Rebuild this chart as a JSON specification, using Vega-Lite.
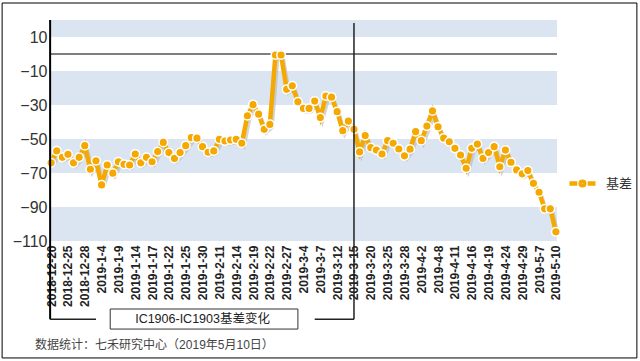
{
  "$schema": "https://vega.github.io/schema/vega-lite/v6.json",
  "width": 507,
  "height": 221,
  "autosize": {"type": "none"},
  "padding": {"left": 50, "top": 20, "right": 83, "bottom": 120},
  "background": "white",
  "config": {
    "view": {"stroke": null},
    "font": "Liberation Sans, Noto Sans CJK SC, sans-serif",
    "axisY": {"domain": false, "ticks": false, "grid": false, "labelFontSize": 16, "labelColor": "#333333", "labelPadding": 3, "labelFont": "Liberation Sans", "labelOverlap": false, "labelFlush": false},
    "axisX": {"domain": false, "ticks": false, "grid": false, "labelFontSize": 12, "labelFontWeight": "bold", "labelColor": "#222222", "labelAngle": 270, "labelAlign": "right", "labelBaseline": "middle", "labelPadding": 4, "labelOverlap": false, "labelFont": "Liberation Sans"}
  },
  "datasets": {
    "basis": [
      {"d": "2018-12-20", "v": -64.0, "s": "基差"},
      {"d": "2018-12-21", "v": -57.0, "s": "基差"},
      {"d": "2018-12-24", "v": -60.8, "s": "基差"},
      {"d": "2018-12-25", "v": -59.0, "s": "基差"},
      {"d": "2018-12-26", "v": -64.0, "s": "基差"},
      {"d": "2018-12-27", "v": -60.8, "s": "基差"},
      {"d": "2018-12-28", "v": -53.9, "s": "基差"},
      {"d": "2019-1-2", "v": -67.8, "s": "基差"},
      {"d": "2019-1-3", "v": -62.8, "s": "基差"},
      {"d": "2019-1-4", "v": -77.0, "s": "基差"},
      {"d": "2019-1-7", "v": -65.3, "s": "基差"},
      {"d": "2019-1-8", "v": -70.1, "s": "基差"},
      {"d": "2019-1-9", "v": -63.4, "s": "基差"},
      {"d": "2019-1-10", "v": -64.9, "s": "基差"},
      {"d": "2019-1-11", "v": -65.3, "s": "基差"},
      {"d": "2019-1-14", "v": -58.8, "s": "基差"},
      {"d": "2019-1-15", "v": -64.0, "s": "基差"},
      {"d": "2019-1-16", "v": -60.8, "s": "基差"},
      {"d": "2019-1-17", "v": -63.4, "s": "基差"},
      {"d": "2019-1-18", "v": -57.4, "s": "基差"},
      {"d": "2019-1-21", "v": -52.0, "s": "基差"},
      {"d": "2019-1-22", "v": -58.0, "s": "基差"},
      {"d": "2019-1-23", "v": -61.4, "s": "基差"},
      {"d": "2019-1-24", "v": -58.0, "s": "基差"},
      {"d": "2019-1-25", "v": -53.9, "s": "基差"},
      {"d": "2019-1-28", "v": -49.2, "s": "基差"},
      {"d": "2019-1-29", "v": -49.5, "s": "基差"},
      {"d": "2019-1-30", "v": -54.5, "s": "基差"},
      {"d": "2019-1-31", "v": -57.8, "s": "基差"},
      {"d": "2019-2-1", "v": -57.0, "s": "基差"},
      {"d": "2019-2-11", "v": -50.2, "s": "基差"},
      {"d": "2019-2-12", "v": -51.2, "s": "基差"},
      {"d": "2019-2-13", "v": -50.6, "s": "基差"},
      {"d": "2019-2-14", "v": -50.2, "s": "基差"},
      {"d": "2019-2-15", "v": -52.5, "s": "基差"},
      {"d": "2019-2-18", "v": -36.3, "s": "基差"},
      {"d": "2019-2-19", "v": -29.8, "s": "基差"},
      {"d": "2019-2-20", "v": -35.4, "s": "基差"},
      {"d": "2019-2-21", "v": -44.3, "s": "基差"},
      {"d": "2019-2-22", "v": -41.4, "s": "基差"},
      {"d": "2019-2-25", "v": -0.6, "s": "基差"},
      {"d": "2019-2-26", "v": -0.6, "s": "基差"},
      {"d": "2019-2-27", "v": -20.8, "s": "基差"},
      {"d": "2019-2-28", "v": -18.7, "s": "基差"},
      {"d": "2019-3-1", "v": -28.1, "s": "基差"},
      {"d": "2019-3-4", "v": -32.0, "s": "基差"},
      {"d": "2019-3-5", "v": -32.0, "s": "基差"},
      {"d": "2019-3-6", "v": -27.7, "s": "基差"},
      {"d": "2019-3-7", "v": -37.4, "s": "基差"},
      {"d": "2019-3-8", "v": -24.7, "s": "基差"},
      {"d": "2019-3-11", "v": -25.4, "s": "基差"},
      {"d": "2019-3-12", "v": -33.9, "s": "基差"},
      {"d": "2019-3-13", "v": -45.1, "s": "基差"},
      {"d": "2019-3-14", "v": -39.5, "s": "基差"},
      {"d": "2019-3-15", "v": -44.3, "s": "基差"},
      {"d": "2019-3-18", "v": -57.6, "s": "基差"},
      {"d": "2019-3-19", "v": -48.0, "s": "基差"},
      {"d": "2019-3-20", "v": -55.1, "s": "基差"},
      {"d": "2019-3-21", "v": -56.5, "s": "基差"},
      {"d": "2019-3-22", "v": -58.8, "s": "基差"},
      {"d": "2019-3-25", "v": -51.0, "s": "基差"},
      {"d": "2019-3-26", "v": -52.5, "s": "基差"},
      {"d": "2019-3-27", "v": -55.9, "s": "基差"},
      {"d": "2019-3-28", "v": -59.9, "s": "基差"},
      {"d": "2019-3-29", "v": -56.0, "s": "基差"},
      {"d": "2019-4-1", "v": -45.7, "s": "基差"},
      {"d": "2019-4-2", "v": -51.0, "s": "基差"},
      {"d": "2019-4-3", "v": -42.4, "s": "基差"},
      {"d": "2019-4-4", "v": -33.5, "s": "基差"},
      {"d": "2019-4-8", "v": -42.8, "s": "基差"},
      {"d": "2019-4-9", "v": -49.5, "s": "基差"},
      {"d": "2019-4-10", "v": -51.6, "s": "基差"},
      {"d": "2019-4-11", "v": -55.5, "s": "基差"},
      {"d": "2019-4-12", "v": -59.4, "s": "基差"},
      {"d": "2019-4-15", "v": -67.2, "s": "基差"},
      {"d": "2019-4-16", "v": -55.5, "s": "基差"},
      {"d": "2019-4-17", "v": -53.0, "s": "基差"},
      {"d": "2019-4-18", "v": -61.4, "s": "基差"},
      {"d": "2019-4-19", "v": -58.0, "s": "基差"},
      {"d": "2019-4-22", "v": -54.5, "s": "基差"},
      {"d": "2019-4-23", "v": -66.3, "s": "基差"},
      {"d": "2019-4-24", "v": -56.5, "s": "基差"},
      {"d": "2019-4-25", "v": -63.7, "s": "基差"},
      {"d": "2019-4-26", "v": -68.2, "s": "基差"},
      {"d": "2019-4-29", "v": -70.5, "s": "基差"},
      {"d": "2019-4-30", "v": -68.6, "s": "基差"},
      {"d": "2019-5-6", "v": -76.1, "s": "基差"},
      {"d": "2019-5-7", "v": -81.3, "s": "基差"},
      {"d": "2019-5-8", "v": -91.1, "s": "基差"},
      {"d": "2019-5-9", "v": -91.1, "s": "基差"},
      {"d": "2019-5-10", "v": -104.6, "s": "基差"}
    ]
  },
  "layer": [
    {
      "data": {"values": [{"lo": 10, "hi": 20}, {"lo": -30, "hi": -10}, {"lo": -70, "hi": -50}, {"lo": -110, "hi": -90}]},
      "mark": {"type": "rect", "color": "#dbe5f1"},
      "encoding": {
        "y": {"field": "lo", "type": "quantitative", "title": null, "scale": {"domain": [-110, 20], "nice": false, "zero": false}, "axis": {"values": [10, -10, -30, -50, -70, -90, -110], "tickCount": 20, "title": null, "labelOverlap": false}},
        "y2": {"field": "hi"}
      }
    },
    {
      "data": {"values": [{}]},
      "mark": {"type": "rule", "color": "#555555", "strokeWidth": 1.5},
      "encoding": {"y": {"datum": 0, "type": "quantitative"}}
    },
    {
      "data": {"name": "basis"},
      "encoding": {
        "x": {"field": "d", "type": "ordinal", "sort": null, "title": null, "scale": {"type": "point", "padding": 0.2},
          "axis": {"title": null, "values": ["2018-12-20", "2018-12-25", "2018-12-28", "2019-1-4", "2019-1-9", "2019-1-14", "2019-1-17", "2019-1-22", "2019-1-25", "2019-1-30", "2019-2-11", "2019-2-14", "2019-2-19", "2019-2-22", "2019-2-27", "2019-3-4", "2019-3-7", "2019-3-12", "2019-3-15", "2019-3-20", "2019-3-25", "2019-3-28", "2019-4-2", "2019-4-8", "2019-4-11", "2019-4-16", "2019-4-19", "2019-4-24", "2019-4-29", "2019-5-7", "2019-5-10"]}},
        "y": {"field": "v", "type": "quantitative", "title": null}
      },
      "layer": [
        {"mark": {"type": "line", "color": "#b8b8b8", "strokeWidth": 4, "opacity": 0.6, "xOffset": 2, "yOffset": 3}},
        {
          "mark": {"type": "line", "strokeWidth": 4.5},
          "encoding": {
            "color": {"field": "s", "type": "nominal", "scale": {"range": ["#F5A800"]},
              "legend": {"orient": "none", "legendX": 517, "legendY": 148, "title": null,
                "symbolType": "M-1,0H-0.4M0.4,0H1M-0.14,0A0.14,0.14,0,1,1,0.14,0A0.14,0.14,0,1,1,-0.14,0",
                "symbolSize": 676, "symbolStrokeWidth": 4.5, "labelFontSize": 13, "labelColor": "#333333", "labelOffset": 8, "labelFont": "Noto Sans CJK SC"}}
          }
        },
        {"mark": {"type": "circle", "size": 75, "color": "#F5A800", "stroke": "white", "strokeWidth": 1.5, "opacity": 1}}
      ]
    },
    {
      "data": {"values": [{}]},
      "mark": {"type": "rule", "color": "#222222", "strokeWidth": 1.5},
      "encoding": {"x": {"datum": "2019-3-15", "type": "ordinal"}, "y": {"datum": 18.2, "type": "quantitative"}, "y2": {"datum": -156}}
    },
    {
      "data": {"values": [{}]},
      "mark": {"type": "rule", "color": "#222222", "strokeWidth": 1.5},
      "encoding": {"x": {"datum": "2019-3-6", "type": "ordinal"}, "x2": {"datum": "2019-3-15"}, "y": {"datum": -156, "type": "quantitative"}}
    },
    {
      "data": {"values": [{}]},
      "mark": {"type": "rule", "color": "#000000", "strokeWidth": 2, "xOffset": -1},
      "encoding": {"x": {"datum": "2018-12-20", "type": "ordinal"}, "y": {"datum": 20, "type": "quantitative"}, "y2": {"datum": -156}}
    },
    {
      "data": {"values": [{}]},
      "mark": {"type": "rule", "color": "#222222", "strokeWidth": 1.5, "xOffset": -1},
      "encoding": {"x": {"datum": "2018-12-20", "type": "ordinal"}, "x2": {"datum": "2019-1-3"}, "y": {"datum": -156, "type": "quantitative"}}
    },
    {
      "data": {"values": [{}]},
      "mark": {"type": "rect", "fill": "white", "stroke": "#333333", "strokeWidth": 1, "xOffset": 3},
      "encoding": {"x": {"datum": "2019-1-7", "type": "ordinal"}, "x2": {"datum": "2019-3-1"}, "y": {"datum": -150, "type": "quantitative"}, "y2": {"datum": -161.8}}
    },
    {
      "data": {"values": [{}]},
      "mark": {"type": "text", "fontSize": 12.5, "color": "#222222", "align": "center", "baseline": "middle", "text": "IC1906-IC1903基差变化"},
      "encoding": {"x": {"datum": "2019-1-30", "type": "ordinal"}, "y": {"datum": -156, "type": "quantitative"}}
    },
    {
      "data": {"values": [{}]},
      "mark": {"type": "text", "fontSize": 12, "color": "#444444", "align": "left", "baseline": "middle", "dx": -16, "text": "数据统计：七禾研究中心（2019年5月10日）"},
      "encoding": {"x": {"datum": "2018-12-20", "type": "ordinal"}, "y": {"datum": -171.2, "type": "quantitative"}}
    },
    {
      "data": {"values": [{}]},
      "mark": {"type": "rect", "fill": null, "fillOpacity": 0, "stroke": "#000000", "strokeWidth": 1, "xOffset": -49, "x2Offset": 81},
      "encoding": {"x": {"datum": "2018-12-20", "type": "ordinal"}, "x2": {"datum": "2019-5-10"}, "y": {"datum": 30, "type": "quantitative"}, "y2": {"datum": -178.8}}
    }
  ]
}
